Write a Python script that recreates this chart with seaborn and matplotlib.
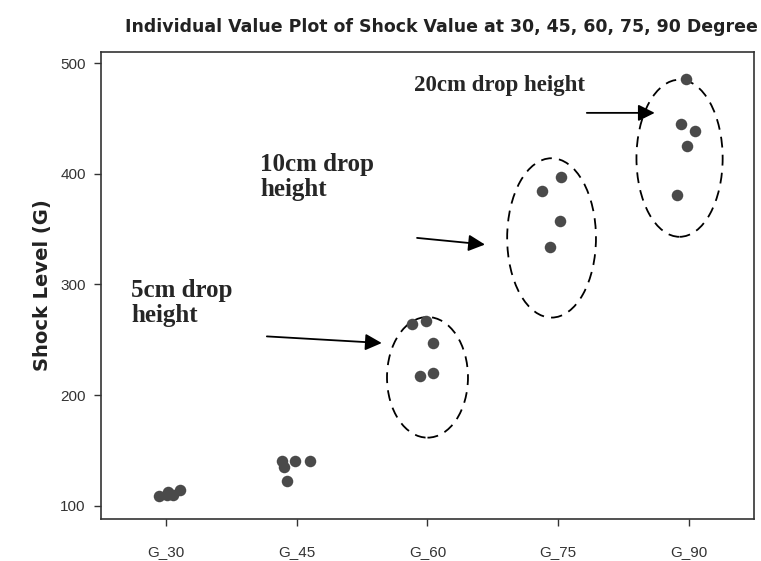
import numpy as np
import pandas as pd
import matplotlib.pyplot as plt
import seaborn as sns
from matplotlib.patches import Ellipse

# --------------------------
# Data
# --------------------------
groups = ["G_30", "G_45", "G_60", "G_75", "G_90"]
g30 = [112, 110, 109, 110, 114]
g45 = [140, 135, 122, 140, 140]
g60 = [264, 267, 247, 217, 220]
g75 = [397, 384, 357, 334]
g90 = [486, 445, 439, 425, 381]

ellipse_groups = ["G_60", "G_75", "G_90"]
ellipse_centers = [216, 342, 414]
ellipse_heights = [109, 144, 142]

notes = ["5cm drop\nheight", "10cm drop\nheight", "20cm drop height"]

df = pd.DataFrame({
    "group": ["G_30"] * len(g30) + ["G_45"] * len(g45) + ["G_60"] * len(g60)
             + ["G_75"] * len(g75) + ["G_90"] * len(g90),
    "shock": g30 + g45 + g60 + g75 + g90,
})

# --------------------------
# Plot
# --------------------------
sns.set_style("ticks")
plt.rcParams["font.family"] = ["Liberation Sans", "DejaVu Sans"]

fig = plt.figure(figsize=(7.61, 5.61), dpi=100)
ax = fig.add_axes([0.1327, 0.0749, 0.8581, 0.8324])

np.random.seed(3)
sns.stripplot(data=df, x="group", y="shock", order=groups, jitter=0.13,
              color="#4a4a4a", size=8.3, linewidth=0, ax=ax)

ax.set_xlim(-0.5, 4.5)
ax.set_ylim(88, 510)
ax.set_yticks([100, 200, 300, 400, 500])
ax.set_xlabel("")
ax.set_ylabel("Shock Level (G)", fontsize=14, fontweight="bold", color="#222222",
              labelpad=6, family="DejaVu Sans")
ax.tick_params(colors="#333333", labelsize=11, length=5, width=1, pad=14)
ax.tick_params(axis="y", pad=6)
for s in ax.spines.values():
    s.set_visible(True)
    s.set_color("#333333")
    s.set_linewidth(1.2)

# dashed ellipses around the drop height groups
widths = [0.62, 0.68, 0.66]
shifts = [0.0, -0.05, -0.07]
for g, c, h, w, d in zip(ellipse_groups, ellipse_centers, ellipse_heights, widths, shifts):
    xi = groups.index(g) + d
    ax.add_patch(Ellipse((xi, c), w, h, fill=False, edgecolor="black",
                         linestyle=(0, (6, 4)), linewidth=1.3))

# notes and arrows
serif = {"family": ["Liberation Serif", "DejaVu Serif"], "weight": "bold"}
ax.text(-0.27, 305, notes[0], va="top", ha="left", fontdict=serif, fontsize=18,
        linespacing=1.1)
ax.text(0.72, 419, notes[1], va="top", ha="left", fontdict=serif, fontsize=18,
        linespacing=1.1)
ax.text(1.90, 489, notes[2], va="top", ha="left", fontdict=serif, fontsize=16.5)

arrow = dict(arrowstyle="-|>", mutation_scale=25, color="black", lw=1.3, shrinkA=0, shrinkB=0)
ax.annotate("", xy=(1.65, 247), xytext=(0.77, 253), arrowprops=arrow)
ax.annotate("", xy=(2.44, 336), xytext=(1.92, 342), arrowprops=arrow)
ax.annotate("", xy=(3.74, 455), xytext=(3.22, 455), arrowprops=arrow)

fig.text(0.58, 0.951, "Individual Value Plot of Shock Value at 30, 45, 60, 75, 90 Degree",
         ha="center", va="center", fontsize=12.5, fontweight="bold", color="#222222",
         family="DejaVu Sans")

plt.savefig("out.png", dpi=100, facecolor="white")
